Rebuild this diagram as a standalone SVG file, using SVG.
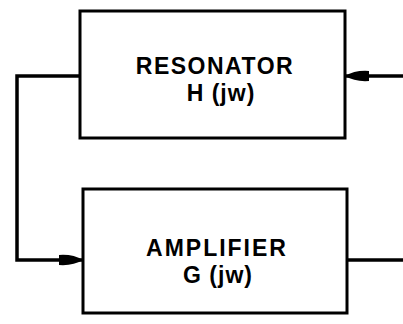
<svg xmlns="http://www.w3.org/2000/svg" width="403" height="324" viewBox="0 0 403 324">
<defs>
<style>
.box{fill:#fff;stroke:#000;stroke-width:3}
.wire{fill:none;stroke:#000;stroke-width:3.5}
.t{font-family:"Liberation Sans",Arial,sans-serif;font-weight:bold;font-size:23px;fill:#000;text-anchor:middle}
</style>
<marker id="arr" viewBox="0 0 24 12" refX="24" refY="6" markerWidth="24" markerHeight="12" markerUnits="userSpaceOnUse" orient="auto">
<path d="M0,1 Q14,0 24,6 Q14,12 0,11 Z" fill="#000"/>
</marker>
</defs>
<rect width="403" height="324" fill="#fff"/>
<g id="connectors">
<path class="wire" d="M403,76 L345,76" marker-end="url(#arr)"/>
<path class="wire" d="M80,76 L17,76 L17,260 L83,260" marker-end="url(#arr)"/>
<path class="wire" d="M347,260 L403,260"/>
</g>
<g id="resonator">
<rect class="box" x="80" y="11" width="265" height="127"/>
<text class="t" x="215" y="74" letter-spacing="1.5">RESONATOR</text>
<text class="t" x="221" y="101" letter-spacing="1">H (jw)</text>
</g>
<g id="amplifier">
<rect class="box" x="83" y="189" width="264" height="124"/>
<text class="t" x="217" y="256" letter-spacing="2">AMPLIFIER</text>
<text class="t" x="218" y="283" letter-spacing="1">G (jw)</text>
</g>
</svg>
